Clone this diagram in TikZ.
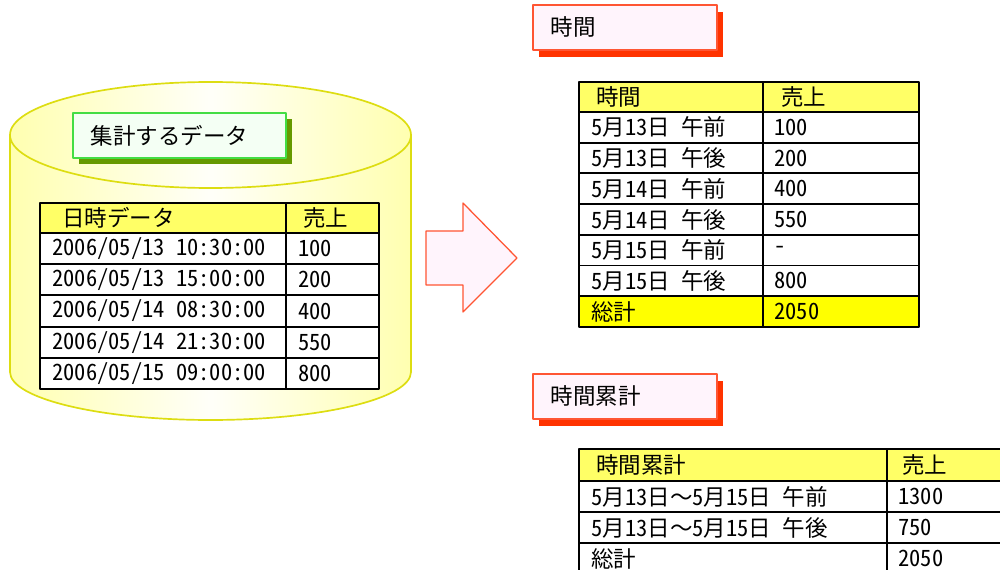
\documentclass[tikz,border=0pt]{standalone}
\usepackage{fontspec}
\setmainfont{Noto Sans CJK JP}[RawFeature=+hwid]
\usetikzlibrary{shadows}

\definecolor{cylfill}{HTML}{FFFFB0}
\definecolor{cylline}{HTML}{DDDD11}
\definecolor{grnline}{HTML}{44DD44}
\definecolor{grnfill}{HTML}{F4FFF4}
\definecolor{grnshade}{HTML}{669900}
\definecolor{redline}{HTML}{FF5533}
\definecolor{redfill}{HTML}{FFF4FC}
\definecolor{redshade}{HTML}{FF3300}
\definecolor{headfill}{HTML}{FFFF66}
\definecolor{sumfill}{HTML}{FFFF00}

\def\px{0.025cm}
\newcommand\wavedash{{\addfontfeature{RawFeature=-hwid}〜}}

\tikzset{
  titlebox/.style={draw, line width=1.2pt, anchor=north west, align=left,
    inner xsep=18*\px, inner ysep=0pt, minimum height=45*\px,
    font=\fontsize{16}{19}\selectfont},
  cell/.style={draw=black, line width=1.3pt, fill=white},
  celltext/.style={anchor=west, inner sep=0pt, font=\fontsize{16}{19}\selectfont},
  cylline/.style={draw=cylline, line width=1.2pt},
  bigarrow/.style={draw=redline, line width=0.9pt, fill=redfill}
}

\begin{document}
\begin{tikzpicture}[line join=round, x=\px, y=-\px]
    \useasboundingbox (0,0) rectangle (1000,570);
    \clip (0,0) rectangle (1000,570);

    % cylinder holding the source data
    \fill[left color=cylfill, right color=cylfill, middle color=cylfill!8]
      (10,135) -- (10,372) arc[start angle=180, end angle=0, x radius=200.5, y radius=48]
      -- (411,135) arc[start angle=0, end angle=-180, x radius=200.5, y radius=53] -- cycle;
    \draw[cylline] (10,135) -- (10,372) arc[start angle=180, end angle=0, x radius=200.5, y radius=48] -- (411,135);
    \draw[cylline] (210.5,135) ellipse[x radius=200.5, y radius=53];

    % title boxes
    \node[titlebox, draw=grnline, fill=grnfill, text width=177*\px,
      drop shadow={shadow xshift=6*\px, shadow yshift=-6*\px, fill=grnshade, opacity=1}]
      (srctitle) at (72,112) {集計するデータ};
    \node[titlebox, draw=redline, fill=redfill, text width=148*\px,
      drop shadow={shadow xshift=6*\px, shadow yshift=-7*\px, fill=redshade, opacity=1}]
      (hourtitle) at (532,4) {時間};
    \node[titlebox, draw=redline, fill=redfill, text width=148*\px,
      drop shadow={shadow xshift=6*\px, shadow yshift=-7*\px, fill=redshade, opacity=1}]
      (cumtitle) at (532,373) {時間累計};

    % arrow
    \draw[bigarrow] (426,231) -- (463,231) -- (463,203) -- (517,258)
      -- (463,312) -- (463,285) -- (426,285) -- cycle;

    % source table
    \def\xa{40} \def\xb{286} \def\xc{379}
    \draw[cell, fill=headfill] (\xa,203) rectangle (\xb,233);
    \draw[cell, fill=headfill] (\xb,203) rectangle (\xc,233);
    \node[celltext] (srch1) at (62,218) {日時データ};
    \node[celltext] (srch2) at (303,218) {売上};
    \foreach \t/\v [count=\i from 0] in {{2006/05/13 10:30:00}/100, {2006/05/13 15:00:00}/200,
        {2006/05/14 08:30:00}/400, {2006/05/14 21:30:00}/550, {2006/05/15 09:00:00}/800} {
      \pgfmathsetmacro\ya{233+31.2*\i}
      \pgfmathsetmacro\yb{\ya+31.2}
      \draw[cell] (\xa,\ya) rectangle (\xb,\yb);
      \draw[cell] (\xb,\ya) rectangle (\xc,\yb);
      \node[celltext] (src\i a) at (52,\ya+15.6) {\t};
      \node[celltext] (src\i b) at (298,\ya+15.6) {\v};
    }

    % hourly table
    \def\xa{579} \def\xb{763} \def\xc{919}
    \draw[cell, fill=headfill] (\xa,82) rectangle (\xb,112);
    \draw[cell, fill=headfill] (\xb,82) rectangle (\xc,112);
    \node[celltext] (hourh1) at (596,97) {時間};
    \node[celltext] (hourh2) at (781,97) {売上};
    \foreach \t/\v/\c [count=\i from 0] in {5月13日\enspace 午前/100/white, 5月13日\enspace 午後/200/white,
        5月14日\enspace 午前/400/white, 5月14日\enspace 午後/550/white, 5月15日\enspace 午前/-/white,
        5月15日\enspace 午後/800/white, 総計/2050/sumfill} {
      \pgfmathsetmacro\ya{112+30.7*\i}
      \pgfmathsetmacro\yb{\ya+30.7}
      \draw[cell, fill=\c] (\xa,\ya) rectangle (\xb,\yb);
      \draw[cell, fill=\c] (\xb,\ya) rectangle (\xc,\yb);
      \node[celltext] (hour\i a) at (591,\ya+15.4) {\t};
      \node[celltext] (hour\i b) at (774,\ya+15.4) {\v};
    }

    % cumulative table
    \def\xa{579} \def\xb{887} \def\xc{1043}
    \draw[cell, fill=headfill] (\xa,449) rectangle (\xb,481);
    \draw[cell, fill=headfill] (\xb,449) rectangle (\xc,481);
    \node[celltext] (cumh1) at (596,465) {時間累計};
    \node[celltext] (cumh2) at (902,465) {売上};
    \foreach \t/\v [count=\i from 0] in {5月13日\wavedash 5月15日\enspace 午前/1300,
        5月13日\wavedash 5月15日\enspace 午後/750, 総計/2050} {
      \pgfmathsetmacro\ya{481+31*\i}
      \pgfmathsetmacro\yb{\ya+31}
      \draw[cell] (\xa,\ya) rectangle (\xb,\yb);
      \draw[cell] (\xb,\ya) rectangle (\xc,\yb);
      \node[celltext] (cum\i a) at (591,\ya+15.5) {\t};
      \node[celltext] (cum\i b) at (898,\ya+15.5) {\v};
    }
  \end{tikzpicture}
\end{document}
